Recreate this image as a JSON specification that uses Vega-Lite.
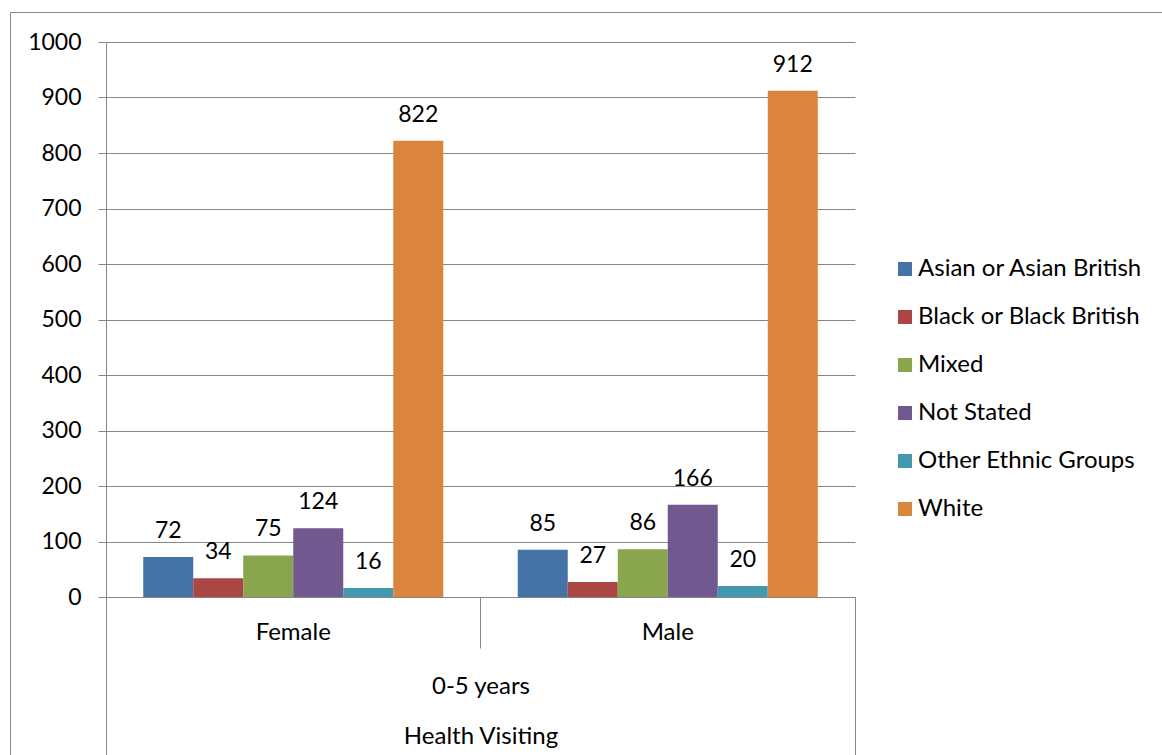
{
  "$schema": "https://vega.github.io/schema/vega-lite/v6.json",
  "width": 1152,
  "height": 743,
  "autosize": "none",
  "padding": {"left": 10, "top": 12, "right": 0, "bottom": 0},
  "background": "white",
  "config": {
    "font": "Lato",
    "view": {"stroke": "#868686", "strokeWidth": 1, "strokeDash": [1152, 1895, 743]},
    "axis": {
      "labelFont": "Lato", "labelFontSize": 23, "labelColor": "#000000",
      "titleFont": "Lato", "titleFontSize": 24, "titleFontWeight": "normal", "titleColor": "#000000",
      "domainColor": "#868686", "tickColor": "#868686", "gridColor": "#868686",
      "domainWidth": 1, "tickWidth": 1, "gridWidth": 1
    },
    "legend": {
      "orient": "none", "legendX": 883, "legendY": 245,
      "symbolType": "square", "symbolSize": 196, "symbolStrokeWidth": 0,
      "labelFont": "Lato", "labelFontSize": 24, "labelColor": "#000000",
      "labelOffset": 1, "rowPadding": 24, "padding": 0, "labelLimit": 400
    }
  },
  "data": {
    "values": [
      {"sex": "Female", "ethnicity": "Asian or Asian British", "count": 72},
      {"sex": "Female", "ethnicity": "Black or Black British", "count": 34},
      {"sex": "Female", "ethnicity": "Mixed", "count": 75},
      {"sex": "Female", "ethnicity": "Not Stated", "count": 124},
      {"sex": "Female", "ethnicity": "Other Ethnic Groups", "count": 16},
      {"sex": "Female", "ethnicity": "White", "count": 822},
      {"sex": "Male", "ethnicity": "Asian or Asian British", "count": 85},
      {"sex": "Male", "ethnicity": "Black or Black British", "count": 27},
      {"sex": "Male", "ethnicity": "Mixed", "count": 86},
      {"sex": "Male", "ethnicity": "Not Stated", "count": 166},
      {"sex": "Male", "ethnicity": "Other Ethnic Groups", "count": 20},
      {"sex": "Male", "ethnicity": "White", "count": 912}
    ]
  },
  "encoding": {
    "y": {
      "field": "count", "type": "quantitative",
      "scale": {"domain": [0, 1000], "range": [585, 30], "nice": false},
      "axis": {
        "orient": "left", "offset": -96, "values": [0, 100, 200, 300, 400, 500, 600, 700, 800, 900, 1000],
        "format": "d",
        "grid": true, "ticks": true, "tickSize": 8, "labelPadding": 17, "title": null, "domain": true
      }
    }
  },
  "resolve": {"axis": {"x": "independent"}},
  "layer": [
    {
      "mark": {"type": "bar"},
      "encoding": {
        "x": {
          "field": "sex", "type": "nominal",
          "scale": {"type": "band", "domain": ["Female", "Male"], "range": [96, 845], "paddingInner": 0, "paddingOuter": 0},
          "axis": {
            "orient": "bottom", "offset": -158, "ticks": false, "domain": true, "grid": false,
            "labels": true, "labelAngle": 0, "labelPadding": 42, "labelBaseline": "alphabetic", "labelFontSize": 24,
            "title": ["0-5 years", "Health Visiting"], "titleBaseline": "top", "titleY": 77, "titleLineHeight": 50
          }
        },
        "xOffset": {
          "field": "ethnicity", "type": "nominal",
          "scale": {"paddingInner": 0, "paddingOuter": 0.745}
        },
        "color": {
          "field": "ethnicity", "type": "nominal",
          "scale": {
            "domain": ["Asian or Asian British", "Black or Black British", "Mixed", "Not Stated", "Other Ethnic Groups", "White"],
            "range": ["#4572A7", "#AA4643", "#89A54E", "#71588F", "#4198AF", "#DB843D"]
          },
          "legend": {"title": null}
        }
      }
    },
    {
      "mark": {"type": "text", "fontSize": 23, "font": "Lato", "color": "#000000", "baseline": "alphabetic", "dy": -19},
      "encoding": {
        "x": {
          "field": "sex", "type": "nominal",
          "axis": {
            "orient": "bottom", "offset": -158, "values": ["Male"], "bandPosition": 0,
            "ticks": true, "tickSize": 51, "labels": false, "domain": false, "grid": false, "title": null
          }
        },
        "xOffset": {"field": "ethnicity", "type": "nominal"},
        "text": {"field": "count", "type": "quantitative"}
      }
    },
    {
      "mark": {"type": "point", "opacity": 0},
      "encoding": {
        "x": {
          "field": "sex", "type": "nominal",
          "axis": {
            "orient": "bottom", "offset": -158, "values": ["Female"], "bandPosition": 0,
            "ticks": true, "tickSize": 160, "labels": false, "domain": false, "grid": false, "title": null
          }
        }
      }
    },
    {
      "mark": {"type": "point", "opacity": 0},
      "encoding": {
        "x": {
          "field": "sex", "type": "nominal",
          "axis": {
            "orient": "bottom", "offset": -158, "values": ["Male"], "bandPosition": 1,
            "ticks": true, "tickSize": 160, "labels": false, "domain": false, "grid": false, "title": null
          }
        }
      }
    }
  ]
}
